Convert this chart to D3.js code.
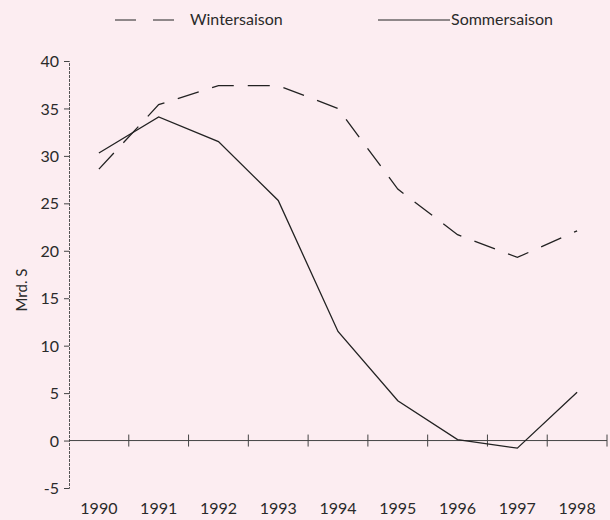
<!DOCTYPE html>
<html>
<head>
<meta charset="utf-8">
<script src="https://cdn.jsdelivr.net/npm/d3@7"></script>
<style>
    body { margin: 0; background: #fcedf1; }
    svg { display: block; font-family: "Lato", "DejaVu Sans", sans-serif; }
    .axis text { font-size: 16px; fill: #2a2a2a; }
</style>
</head>
<body>
<div id="chart"></div>
<script>
const WIDTH = 610;
const HEIGHT = 520;

// Daten
const years = ["1990", "1991", "1992", "1993", "1994", "1995", "1996", "1997", "1998"];
const winter = [28.6, 35.4, 37.4, 37.4, 35.0, 26.5, 21.7, 19.3, 22.1];
const sommer = [30.3, 34.1, 31.5, 25.3, 11.5, 4.2, 0.1, -0.8, 5.1];
const yTicks = [-5, 0, 5, 10, 15, 20, 25, 30, 35, 40];

const margin = {top: 61, right: 3, bottom: 32, left: 69};
const width = WIDTH - margin.left - margin.right;
const height = HEIGHT - margin.top - margin.bottom;

const svg = d3.select("#chart").append("svg")
    .attr("width", WIDTH)
    .attr("height", HEIGHT);

svg.append("rect")
    .attr("width", WIDTH)
    .attr("height", HEIGHT)
    .attr("fill", "#fcedf1");

const g = svg.append("g")
    .attr("transform", "translate(" + margin.left + "," + margin.top + ")");

const x = d3.scaleBand()
    .domain(years)
    .range([0, width]);

const y = d3.scaleLinear()
    .domain([-5, 40])
    .range([height, 0]);

// y-Achse
const yAxis = g.append("g")
    .attr("class", "axis")
    .call(d3.axisLeft(y).tickValues(yTicks).tickSize(5).tickFormat(d => d < 0 ? "-" + Math.abs(d) : d))
    .attr("font-family", null)
    .attr("font-size", null);
yAxis.select(".domain").attr("stroke", "#555").attr("stroke-dasharray", "3,1");
yAxis.selectAll(".tick line").attr("stroke", "#444");
yAxis.selectAll("text").attr("x", -10).attr("dy", "0.35em");

// x-Achse auf Nulllinie
const xAxis = g.append("g")
    .attr("class", "axis")
    .attr("transform", "translate(0," + y(0) + ")")
    .call(d3.axisBottom(x).tickSize(0).tickPadding(0))
    .attr("font-family", null)
    .attr("font-size", null);
xAxis.select(".domain").attr("stroke", "#444").attr("d", "M0,0H" + width);
xAxis.selectAll("text")
    .attr("y", height - y(0) + 26)
    .attr("dy", 0);

// Striche zwischen den Jahren
g.append("g")
    .selectAll("line")
    .data(years)
    .join("line")
    .attr("x1", d => x(d) + x.bandwidth())
    .attr("x2", d => x(d) + x.bandwidth())
    .attr("y1", y(0) - 6)
    .attr("y2", y(0) + 6)
    .attr("stroke", "#444");

// Linien
const line = d3.line()
    .x((d, i) => x(years[i]) + x.bandwidth() / 2)
    .y(d => y(d));

g.append("path")
    .datum(winter)
    .attr("fill", "none")
    .attr("stroke", "#222")
    .attr("stroke-width", 1.3)
    .attr("stroke-dasharray", "22,14")
    .attr("d", line);

g.append("path")
    .datum(sommer)
    .attr("fill", "none")
    .attr("stroke", "#222")
    .attr("stroke-width", 1.3)
    .attr("d", line);

// y-Titel
svg.append("text")
    .attr("transform", "translate(27,290) rotate(-90)")
    .attr("text-anchor", "middle")
    .style("font-size", "15px")
    .attr("fill", "#2a2a2a")
    .text("Mrd. S");

// Legende
const legend = svg.append("g");
legend.append("line")
    .attr("x1", 115).attr("x2", 175)
    .attr("y1", 20).attr("y2", 20)
    .attr("stroke", "#222")
    .attr("stroke-dasharray", "21,17");
legend.append("text")
    .attr("x", 190).attr("y", 25)
    .style("font-size", "16px")
    .attr("fill", "#2a2a2a")
    .text("Wintersaison");
legend.append("line")
    .attr("x1", 378).attr("x2", 450)
    .attr("y1", 20).attr("y2", 20)
    .attr("stroke", "#222");
legend.append("text")
    .attr("x", 451).attr("y", 25)
    .style("font-size", "16px")
    .attr("fill", "#2a2a2a")
    .text("Sommersaison");
</script>
</body>
</html>
